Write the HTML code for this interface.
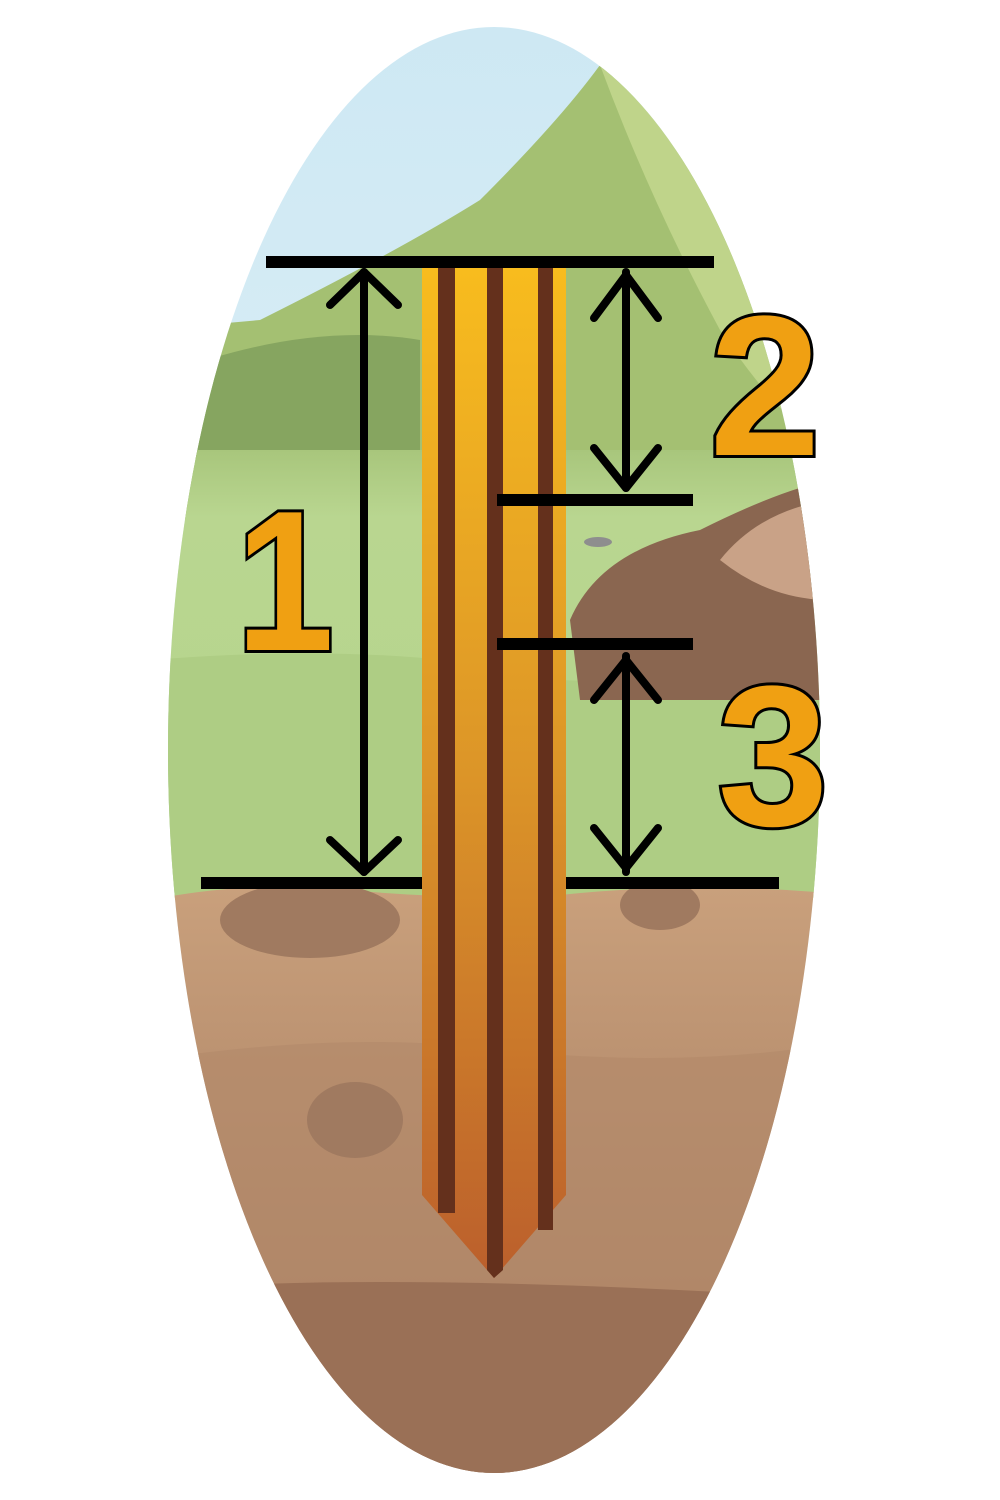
<!DOCTYPE html>
<html><head><meta charset="utf-8"><style>
html,body{margin:0;padding:0;background:#fff;}
svg{display:block;}
</style></head><body>
<svg width="1000" height="1500" viewBox="0 0 1000 1500">
<defs>
<clipPath id="ell"><ellipse cx="494" cy="750" rx="326" ry="723"/></clipPath>
<linearGradient id="sky" x1="0" y1="0" x2="0" y2="1"><stop offset="0" stop-color="#cde8f3"/><stop offset="1" stop-color="#eef7fb"/></linearGradient>
<linearGradient id="post" x1="0" y1="0" x2="0" y2="1"><stop offset="0" stop-color="#f8bc1e"/><stop offset="0.5" stop-color="#dc9528"/><stop offset="1" stop-color="#bb5f2c"/></linearGradient>
<linearGradient id="soil" x1="0" y1="0" x2="0" y2="1"><stop offset="0" stop-color="#c9a07c"/><stop offset="1" stop-color="#9a7056"/></linearGradient>
<linearGradient id="grass" x1="0" y1="0" x2="0" y2="1"><stop offset="0" stop-color="#a8c67c"/><stop offset="0.15" stop-color="#b9d690"/><stop offset="1" stop-color="#b4d48c"/></linearGradient>
</defs>
<g clip-path="url(#ell)">
<rect x="0" y="0" width="1000" height="1500" fill="url(#sky)"/>
<path d="M150 330 L260 320 Q400 250 480 200 Q560 120 600 65 Q700 150 830 420 L830 520 L150 520 Z" fill="#a4c072"/>
<path d="M600 65 Q650 200 720 330 Q780 420 830 450 L830 200 Z" fill="#bfd48a"/>
<path d="M150 380 Q300 320 420 340 L420 460 L150 460 Z" fill="#86a560"/>
<rect x="150" y="450" width="700" height="450" fill="url(#grass)"/>
<path d="M150 660 Q400 640 560 680 L830 690 L830 900 L150 900 Z" fill="#aecd84"/>
<path d="M570 620 Q600 550 700 530 Q780 490 830 480 L830 700 L580 700 Z" fill="#8a6650"/>
<path d="M720 560 Q760 510 830 500 L830 600 Q770 600 720 560Z" fill="#c9a287"/>
<ellipse cx="598" cy="542" rx="14" ry="5" fill="#8e8e8e"/>
<path d="M150 900 Q250 880 350 890 Q450 900 560 895 Q700 880 850 895 L850 1500 L150 1500 Z" fill="url(#soil)"/>
<path d="M150 1060 Q350 1030 500 1050 Q700 1070 850 1040 L850 1500 L150 1500 Z" fill="#b48a6b" opacity="0.7"/>
<path d="M150 1290 Q400 1270 850 1300 L850 1500 L150 1500 Z" fill="#9a7056"/>
<ellipse cx="310" cy="920" rx="90" ry="38" fill="#a07a60"/>
<ellipse cx="355" cy="1120" rx="48" ry="38" fill="#a07a60"/>
<ellipse cx="660" cy="905" rx="40" ry="25" fill="#a07a60"/>
</g>
<g>
<path d="M422 268 L566 268 L566 1195 L494 1278 L422 1195 Z" fill="url(#post)"/>
<rect x="438" y="268" width="17" height="945" fill="#64301c"/>
<path d="M487 268 L503 268 L503 1270 L494 1278 L487 1270 Z" fill="#64301c"/>
<rect x="538" y="268" width="15" height="962" fill="#64301c"/>
</g>
<g stroke="#000" stroke-width="12" fill="none">
<line x1="266" y1="262" x2="714" y2="262"/>
<line x1="497" y1="500" x2="693" y2="500"/>
<line x1="497" y1="644" x2="693" y2="644"/>
<line x1="201" y1="883" x2="422" y2="883"/>
<line x1="566" y1="883" x2="779" y2="883"/>
</g>
<g stroke="#000" stroke-width="8" fill="none" stroke-linecap="round" stroke-linejoin="round">
<g><line x1="364" y1="272" x2="364" y2="872"/><polyline points="330,305 364,272 398,305"/><polyline points="330,840 364,872 398,840"/></g>
<g><line x1="626" y1="272" x2="626" y2="488"/><polyline points="594,318 626,275 658,318"/><polyline points="594,448 626,488 658,448"/></g>
<g><line x1="626" y1="656" x2="626" y2="872"/><polyline points="594,700 626,660 658,700"/><polyline points="594,828 626,868 658,828"/></g>
</g>
<g font-family="Liberation Sans, sans-serif" font-weight="bold" font-size="200" fill="#f0a012" stroke="#000" stroke-width="6" paint-order="stroke" text-anchor="middle">
<text x="285" y="650" transform="translate(285 0) scale(0.88 1) translate(-285 0)">1</text>
<text x="765" y="455">2</text>
<text x="773" y="825">3</text>
</g>
</svg>
</body></html>
